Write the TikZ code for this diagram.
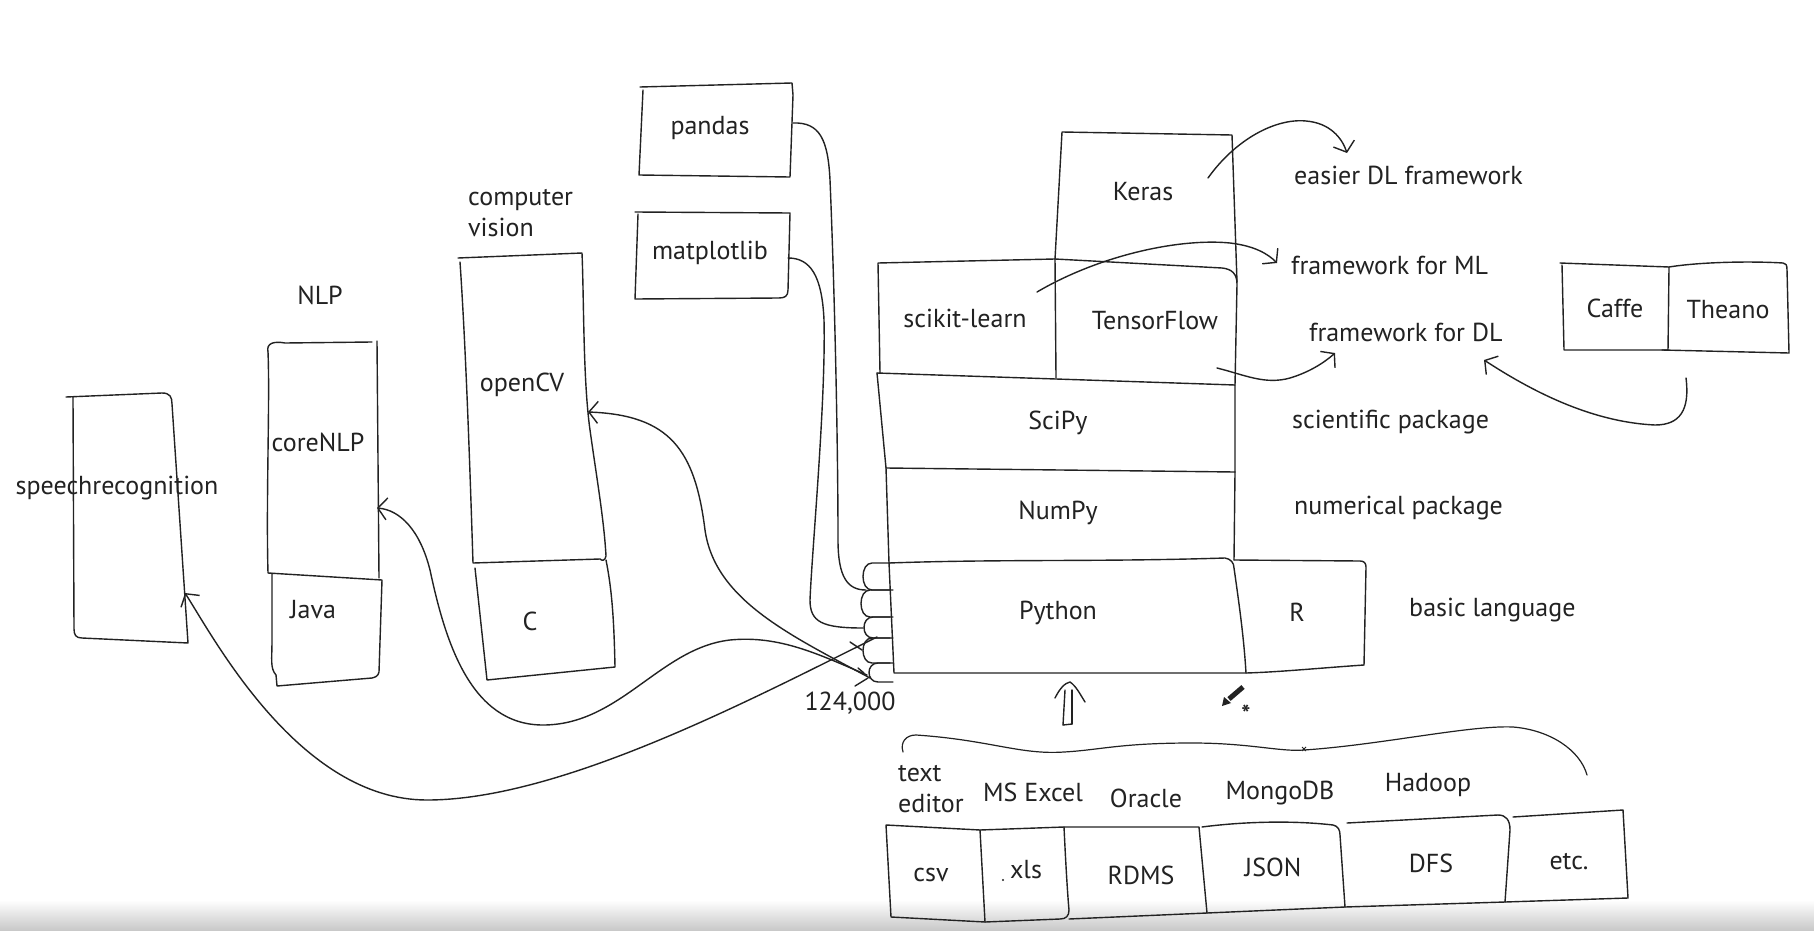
\documentclass[tikz,border=0pt]{standalone}
\usepackage{fontspec}
\setmainfont{PT Sans}
\usetikzlibrary{arrows.meta}
\definecolor{ink}{HTML}{222222}
\begin{document}
\begin{tikzpicture}[x=1pt,y=-1pt,
  ln/.style={draw=ink, line width=1.4pt, line cap=round, line join=round},
  arr/.style={ln, -{Straight Barb[length=9pt,width=22pt]}},
  lbl/.style={font=\fontsize{26}{31}\selectfont, text=ink, inner sep=0pt},
  side/.style={lbl, anchor=west, align=left}]
% canvas
\path[use as bounding box, fill=white] (0,0) rectangle (1814,931);
\shade[top color=white,bottom color=black!22] (0,900) rectangle (1814,931);

% speechrecognition
\draw[ln] (66,397) -- (162,393) .. controls (170,393) and (172,397) .. (172,404) -- (188,643) -- (82,638) .. controls (76,638) and (74,635) .. (74,629) -- (73,397);
\node[lbl] (speech) at (117,488) {speechrecognition};

% coreNLP / Java
\draw[ln] (268,352) .. controls (266,343) and (274,341) .. (285,343) -- (372,342);
\draw[ln] (377,341) -- (379,578);
\draw[ln] (268,352) .. controls (270,400) and (266,500) .. (268,573) -- (382,580) -- (379,672) .. controls (378,676) and (376,677) .. (372,678) -- (277,686) -- (276,675) .. controls (270,668) and (272,660) .. (272,640) -- (272,573);
\node[lbl] (corenlp) at (318,442) {coreNLP};
\node[lbl] (java) at (313,610) {Java};
\node[lbl] (nlp) at (320,295) {NLP};

% openCV / C
\draw[ln] (458,258) -- (582,253) .. controls (584,300) and (583,380) .. (590,430) .. controls (597,480) and (604,520) .. (606,556) .. controls (605,561) and (602,561) .. (600,559) -- (473,563) .. controls (470,470) and (466,350) .. (460,262);
\draw[ln] (475,568) -- (487,680) -- (615,667) .. controls (614,620) and (612,590) .. (606,560);
\node[lbl] (opencv) at (522,385) {openCV};
\node[lbl] (clang) at (530,621) {C};
\node[side] (cvlabel) at (468,213) {computer\\vision};

% pandas / matplotlib
\draw[ln] (640,87) -- (792,83) -- (793,95) -- (790,177) -- (639,175) -- (643,90);
\node[lbl] (pandas) at (710,128) {pandas};
\draw[ln] (635,212) -- (790,213) -- (788,290) .. controls (788,296) and (785,298) .. (779,298) -- (635,299) -- (638,214);
\node[lbl] (mpl) at (710,253) {matplotlib};

% Keras
\draw[ln] (1055,259) -- (1062,132) -- (1232,135) -- (1237,282);
\node[lbl] (keras) at (1143,192) {Keras};
% scikit-learn / TensorFlow
\draw[ln] (880,373) -- (878,263) -- (1055,259) -- (1222,268) .. controls (1232,269) and (1237,274) .. (1237,284) -- (1235,385);
\draw[ln] (1055,259) -- (1056,378);
\node[lbl] (sklearn) at (965,318) {scikit-learn};
\node[lbl] (tf) at (1155,321) {TensorFlow};
% SciPy
\draw[ln] (877,373) -- (1235,385) -- (1235,472);
\draw[ln] (877,373) -- (886,468) -- (1235,472);
\node[lbl] (scipy) at (1058,423) {SciPy};
% NumPy
\draw[ln] (886,468) -- (889,563);
\draw[ln] (1235,472) -- (1234,560);
\node[lbl] (numpy) at (1058,513) {NumPy};
% Python
\draw[ln] (889,563) .. controls (1000,559) and (1100,562) .. (1225,558) .. controls (1231,559) and (1234,563) .. (1234,568) .. controls (1240,610) and (1244,640) .. (1246,673) -- (894,673) -- (889,563);
\node[lbl] (python) at (1058,613) {Python};
% R
\draw[ln] (1234,560) -- (1360,561) .. controls (1364,561) and (1366,563) .. (1366,567) -- (1364,665) .. controls (1320,668) and (1280,672) .. (1246,673);
\node[lbl] (rlang) at (1297,612) {R};

% scallops on Python
\foreach \a/\b/\l in {563/590/862, 590/617/860, 617/638/863, 638/663/862, 663/682/868}
  \draw[ln] (890,\a) -- (\l+10,\a) .. controls (\l-2,\a) and (\l-2,\b) .. (\l+10,\b) -- (893,\b);

% named ends
\coordinate (scA) at (866,590);
\coordinate (scB) at (863,628);
\coordinate (scC) at (877,637);
\coordinate (scD) at (870,678);
\coordinate (scE) at (867,675);
\coordinate (pdOut) at (793,123);
\coordinate (mpOut) at (788,258);
\coordinate (cvIn) at (588,412);
\coordinate (nlpIn) at (377,508);
\coordinate (spIn) at (185,593);

% library connectors
\draw[ln] (pdOut) .. controls (820,122) and (828,140) .. (830,180) .. controls (835,300) and (838,450) .. (838,540) .. controls (838,578) and (848,590) .. (scA);
\draw[ln] (mpOut) .. controls (810,258) and (822,275) .. (824,320) .. controls (826,400) and (812,550) .. (810,600) .. controls (810,622) and (822,628) .. (scB);
\draw[arr] (scD) .. controls (790,635) and (715,600) .. (705,530) .. controls (695,450) and (670,415) .. (cvIn);
\draw[arr] (scE) .. controls (820,655) and (780,635) .. (730,640) .. controls (660,648) and (620,725) .. (543,725) .. controls (470,725) and (445,640) .. (430,570) .. controls (420,530) and (400,510) .. (nlpIn);
\draw[arr] (scC) .. controls (750,700) and (560,800) .. (427,800) .. controls (300,800) and (215,640) .. (spIn);
\draw[ln] (850,642) -- (862,650);
\draw[ln] (858,668) -- (864,673);
\draw[ln] (855,686) -- (868,678);
\node[lbl] (count) at (850,703) {124,000};

% right-hand notes
\node[side] (easy) at (1294,175) {easier DL framework};
\node[side] (fml) at (1291,265) {framework for ML};
\node[side] (fdl) at (1309,332) {framework for DL};
\node[side] (sci) at (1292,422) {scientific package};
\node[side] (num) at (1294,508) {numerical package};
\node[side] (basic) at (1409,610) {basic language};

\coordinate (kOut) at (1208,178);
\coordinate (easyIn) at (1347,153);
\coordinate (skOut) at (1037,292);
\coordinate (mlIn) at (1277,263);
\coordinate (tfOut) at (1217,368);
\coordinate (dlIn) at (1335,353);
\coordinate (caOut) at (1686,378);
\coordinate (dlIn2) at (1484,360);
\draw[arr] (kOut) .. controls (1235,140) and (1275,118) .. (1306,121) .. controls (1330,123) and (1342,138) .. (easyIn);
\draw[arr] (skOut) .. controls (1100,255) and (1180,238) .. (1230,243) .. controls (1255,246) and (1268,254) .. (mlIn);
\draw[arr] (tfOut) .. controls (1245,375) and (1265,385) .. (1290,378) .. controls (1310,372) and (1325,362) .. (dlIn);
\draw[arr] (caOut) .. controls (1690,410) and (1680,425) .. (1655,425) .. controls (1590,422) and (1530,390) .. (dlIn2);

% Caffe / Theano
\draw[ln] (1560,263) -- (1669,267) -- (1668,350) -- (1564,350) -- (1562,265);
\draw[ln] (1669,267) .. controls (1700,262) and (1750,261) .. (1783,263) .. controls (1786,263) and (1787,265) .. (1787,270) -- (1789,353) -- (1662,350);
\node[lbl] (caffe) at (1615,308) {Caffe};
\node[lbl] (theano) at (1728,310) {Theano};

% up arrow
\draw[ln] (1063,725) -- (1065,690);
\draw[ln] (1072,724) -- (1072,690);
\draw[ln] (1063,725) -- (1072,724);
\draw[ln] (1055,698) .. controls (1060,688) and (1065,683) .. (1070,682) .. controls (1076,686) and (1080,694) .. (1085,702);

% pencil cursor
\draw[ink, line width=5pt] (1229,699) -- (1243,687);
\fill[ink] (1222,706) -- (1224,697) -- (1231,703) -- cycle;
\node[text=ink, font=\fontsize{24}{24}\selectfont\bfseries, inner sep=0pt] (star) at (1246,714) {*};

% brace
\draw[ln, line width=1.2pt] (903,752) .. controls (900,742) and (906,735) .. (916,735) .. controls (990,740) and (1020,755) .. (1064,752) .. controls (1100,750) and (1120,743) .. (1192,743) .. controls (1250,743) and (1280,752) .. (1304,750) .. controls (1380,745) and (1470,725) .. (1513,727) .. controls (1550,730) and (1580,750) .. (1587,775);
\draw[ink, line width=1pt] (1302,747) -- (1306,751) (1302,751) -- (1306,747);

% source labels
\node[side] (texted) at (898,789) {text\\editor};
\node[lbl] (msx) at (1033,792) {MS Excel};
\node[lbl] (oracle) at (1146,798) {Oracle};
\node[lbl] (mongo) at (1280,793) {MongoDB};
\node[lbl] (hadoop) at (1428,785) {Hadoop};

% bottom boxes
\draw[ln] (886,825) -- (980,830) -- (985,922) -- (891,917) -- (886,825);
\draw[ln] (980,830) -- (1064,827) .. controls (1066,870) and (1068,900) .. (1069,910) .. controls (1069,916) and (1066,919) .. (1060,919) -- (985,922);
\draw[ln] (1064,827) -- (1199,827) -- (1207,913) -- (1069,919);
\draw[ln] (1202,827) .. controls (1240,822) and (1290,820) .. (1333,825) .. controls (1338,826) and (1340,830) .. (1340,835) -- (1345,907) -- (1207,913);
\draw[ln] (1347,823) -- (1498,815) .. controls (1506,815) and (1510,820) .. (1510,830) -- (1505,902) -- (1345,907);
\draw[ln] (1513,817) -- (1623,810) -- (1628,898) -- (1505,902);
\fill[ink] (1003,880) circle (1.2);
\node[lbl] (csv) at (931,875) {csv};
\node[lbl] (xls) at (1026,870) {xls};
\node[lbl] (rdms) at (1141,875) {RDMS};
\node[lbl] (json) at (1273,867) {JSON};
\node[lbl] (dfs) at (1431,863) {DFS};
\node[lbl] (etc) at (1569,862) {etc.};
\end{tikzpicture}
\end{document}
